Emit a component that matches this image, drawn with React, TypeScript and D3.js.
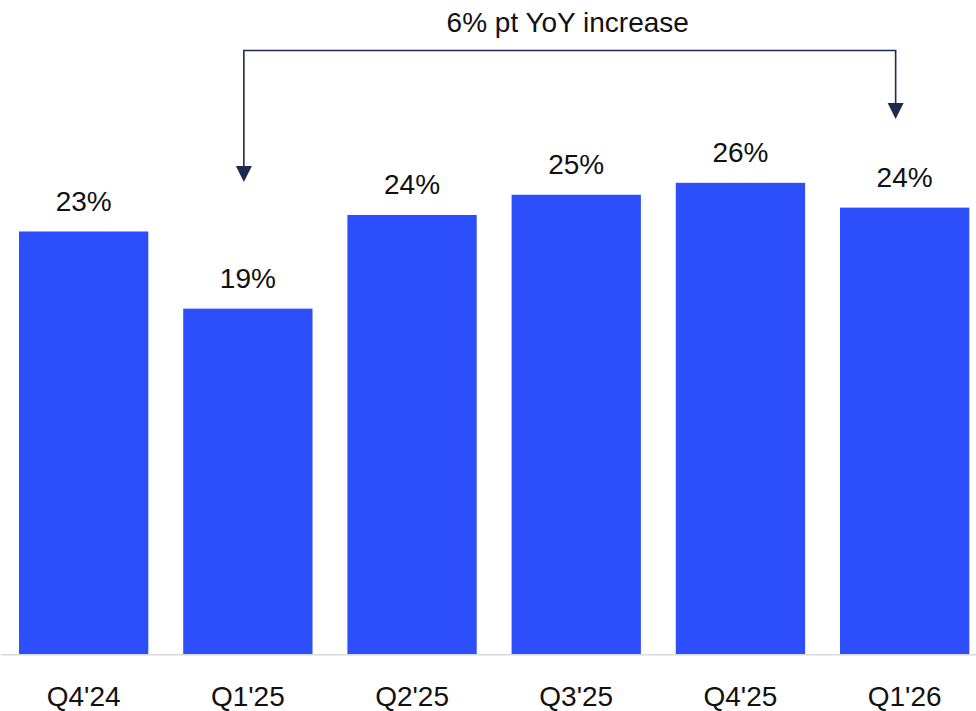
import React from "react";
import * as d3 from "d3";

const categories = ["Q4'24", "Q1'25", "Q2'25", "Q3'25", "Q4'25", "Q1'26"];
const values = [23.0, 18.8, 23.9, 25.0, 25.65, 24.3];
const valueLabels = ["23%", "19%", "24%", "25%", "26%", "24%"];
const annotationText = "6% pt YoY increase";
const annotationFrom = "Q1'25";
const annotationTo = "Q1'26";

const W = 976;
const H = 711;
const FONT = "'Liberation Sans', Arial, sans-serif";
const BAR = "#2d4ffb";
const NAVY = "#1b2a4e";

export default function App() {
  const x = d3
    .scaleBand<string>()
    .domain(categories)
    .range([19, 969.3])
    .paddingInner(0.2125)
    .paddingOuter(0);
  const baseY = 654;
  const y = d3.scaleLinear().domain([0, 30]).range([baseY, baseY - 30 * 18.37]);
  const bw = x.bandwidth();

  const lineY = 50.5;
  const xa = (x(annotationFrom) as number) + bw / 2 - 4;
  const xb = (x(annotationTo) as number) + bw / 2 - 9;
  const tipA = 182;
  const tipB = 119;
  const ah = 16;
  const aw = 8;

  return (
    <div style={{ position: "fixed", left: 0, top: 0 }}>
      <svg width={W} height={H} style={{ display: "block", background: "#fff" }}>
        {categories.map((c, i) => (
          <rect
            key={c}
            x={x(c)}
            y={y(values[i])}
            width={bw}
            height={baseY - y(values[i])}
            fill={BAR}
          />
        ))}
        <line x1={1} x2={W} y1={baseY + 0.75} y2={baseY + 0.75} stroke="#d9d9d9" strokeWidth={1.5} />
        {categories.map((c, i) => (
          <text
            key={"v" + c}
            x={(x(c) as number) + bw / 2}
            y={y(values[i]) - 20.5}
            textAnchor="middle"
            fontFamily={FONT}
            fontSize={28}
            fill="#111"
          >
            {valueLabels[i]}
          </text>
        ))}
        {categories.map((c) => (
          <text
            key={"c" + c}
            x={(x(c) as number) + bw / 2}
            y={706}
            textAnchor="middle"
            fontFamily={FONT}
            fontSize={28}
            fill="#111"
          >
            {c}
          </text>
        ))}
        <path
          d={`M${xa},${tipA - ah} L${xa},${lineY} L${xb},${lineY} L${xb},${tipB - ah}`}
          fill="none"
          stroke={NAVY}
          strokeWidth={1.6}
        />
        <path d={`M${xa - aw},${tipA - ah} L${xa + aw},${tipA - ah} L${xa},${tipA} Z`} fill={NAVY} />
        <path d={`M${xb - aw},${tipB - ah} L${xb + aw},${tipB - ah} L${xb},${tipB} Z`} fill={NAVY} />
        <text
          x={(xa + xb) / 2 - 2}
          y={32}
          textAnchor="middle"
          fontFamily={FONT}
          fontSize={28}
          fill="#111"
        >
          {annotationText}
        </text>
      </svg>
    </div>
  );
}
